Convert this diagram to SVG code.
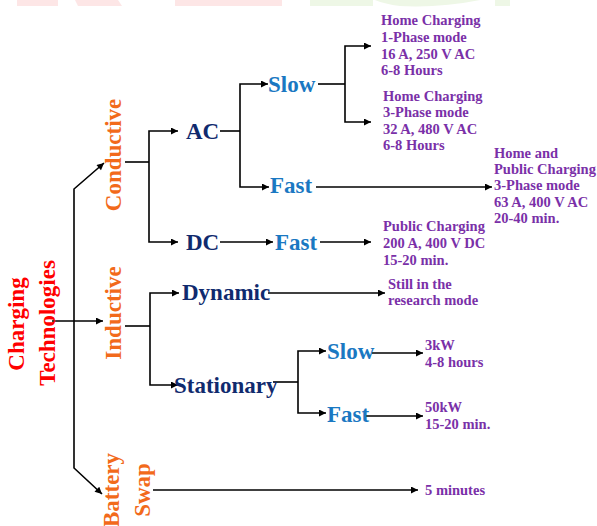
<svg xmlns="http://www.w3.org/2000/svg" width="597" height="526" viewBox="0 0 597 526">
<style>
.ln{fill:none;stroke:#000;stroke-width:1.6}
.ar{marker-end:url(#ah)}
text{font-family:"Liberation Serif","Times New Roman",serif;font-weight:bold}
.rt{fill:#ff0000;font-size:23px;text-anchor:middle}
.or{fill:#f26a1b;font-size:23px;text-anchor:middle}
.nv{fill:#102a6e;font-size:23px}
.bl{fill:#1a78c2;font-size:23px}
.pu{fill:#7a30a8;font-size:14.5px}
</style>
<defs>
<marker id="ah" viewBox="0 0 10 10" refX="10" refY="5" markerWidth="9" markerHeight="7" markerUnits="userSpaceOnUse" orient="auto">
<path d="M0,0 L10,5 L0,10 z" fill="#000"/>
</marker>
</defs>
<g id="bg-deco" opacity="0.6">
<rect x="17" y="0" width="41" height="6" fill="#fcd6d6"/>
<path d="M75,0 H118 L122,6 H78 z" fill="#fcd6d6"/>
<rect x="175" y="0" width="107" height="6" fill="#fcd6d6"/>
<rect x="310" y="0" width="63" height="6" fill="#e3f2d6"/>
<path d="M375,0 H480 Q440,8 400,6 Q385,4 375,0 z" fill="#e3f2d6"/>
<rect x="495" y="0" width="15" height="6" fill="#e3f2d6"/>
</g>
<g id="connectors">
<path class="ln ar" d="M74,325 V189 L104,163"/>
<path class="ln ar" d="M74,325 V468 L102,494"/>
<path class="ln ar" d="M52,321 H103"/>
<path class="ln" d="M125,162 H149"/>
<path class="ln ar" d="M149,162 V131 H178"/>
<path class="ln ar" d="M149,162 V242 H178"/>
<path class="ln" d="M220,131 H240"/>
<path class="ln ar" d="M240,131 V84 H268"/>
<path class="ln ar" d="M240,131 V187 H269"/>
<path class="ln" d="M318,84 H345"/>
<path class="ln ar" d="M345,84 V46 H371"/>
<path class="ln ar" d="M345,84 V122 H371"/>
<path class="ln ar" d="M316,187 H492"/>
<path class="ln ar" d="M220,242 H273"/>
<path class="ln ar" d="M320,242 H371"/>
<path class="ln" d="M125,326 H150"/>
<path class="ln ar" d="M150,326 V293 H179"/>
<path class="ln ar" d="M150,326 V385 H178"/>
<path class="ln ar" d="M268,293 H385"/>
<path class="ln" d="M273,382 H298"/>
<path class="ln ar" d="M298,382 V351 H326"/>
<path class="ln ar" d="M298,382 V413 H326"/>
<path class="ln ar" d="M372,353 H423"/>
<path class="ln ar" d="M366,416 H423"/>
<path class="ln ar" d="M153,490 H418"/>
</g>
<g id="root"><text class="rt" transform="translate(24,324) rotate(-90)">Charging</text><text class="rt" transform="translate(55,323) rotate(-90)">Technologies</text></g>
<g id="conductive"><text class="or" transform="translate(121,155) rotate(-90)">Conductive</text></g>
<g id="inductive"><text class="or" transform="translate(121,313) rotate(-90)">Inductive</text></g>
<g id="battery-swap"><text class="or" transform="translate(119,490) rotate(-90)">Battery</text><text class="or" transform="translate(150,490) rotate(-90)">Swap</text></g>
<g id="ac"><text class="nv" x="186" y="139">AC</text></g>
<g id="dc"><text class="nv" x="186" y="250">DC</text></g>
<g id="ac-slow"><text class="bl" x="268" y="92">Slow</text></g>
<g id="ac-fast"><text class="bl" x="270" y="193">Fast</text></g>
<g id="dc-fast"><text class="bl" x="275" y="250">Fast</text></g>
<g id="dynamic"><text class="nv" x="182" y="300">Dynamic</text></g>
<g id="stationary"><text class="nv" x="174" y="393">Stationary</text></g>
<g id="st-slow"><text class="bl" x="327" y="359">Slow</text></g>
<g id="st-fast"><text class="bl" x="327" y="422">Fast</text></g>
<g id="home-1ph"><text class="pu" x="381" y="25">Home Charging</text><text class="pu" x="381" y="42">1-Phase mode</text><text class="pu" x="381" y="59">16 A, 250 V AC</text><text class="pu" x="381" y="75">6-8 Hours</text></g>
<g id="home-3ph"><text class="pu" x="383" y="101">Home Charging</text><text class="pu" x="383" y="117">3-Phase mode</text><text class="pu" x="383" y="134">32 A, 480 V AC</text><text class="pu" x="383" y="150">6-8 Hours</text></g>
<g id="public-ac"><text class="pu" x="494" y="158">Home and</text><text class="pu" x="494" y="174">Public Charging</text><text class="pu" x="494" y="190">3-Phase mode</text><text class="pu" x="494" y="207">63 A, 400 V AC</text><text class="pu" x="494" y="223">20-40 min.</text></g>
<g id="public-dc"><text class="pu" x="383" y="231">Public Charging</text><text class="pu" x="383" y="248">200 A, 400 V DC</text><text class="pu" x="383" y="265">15-20 min.</text></g>
<g id="research"><text class="pu" x="388" y="289">Still in the</text><text class="pu" x="388" y="305">research mode</text></g>
<g id="st-slow-info"><text class="pu" x="425" y="350">3kW</text><text class="pu" x="425" y="367">4-8 hours</text></g>
<g id="st-fast-info"><text class="pu" x="425" y="412">50kW</text><text class="pu" x="425" y="429">15-20 min.</text></g>
<g id="swap-info"><text class="pu" x="425" y="495">5 minutes</text></g>
</svg>
